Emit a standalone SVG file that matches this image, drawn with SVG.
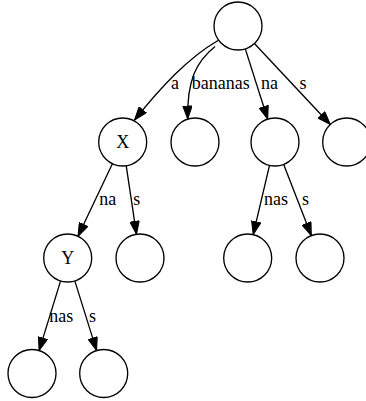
<svg xmlns="http://www.w3.org/2000/svg" width="366" height="401" viewBox="0 0 366 401">
<style>
.n{fill:#fff;stroke:#000;stroke-width:1.33}
.e{fill:none;stroke:#000;stroke-width:1.33}
text{font-family:"Liberation Serif","Times New Roman",serif;font-size:18px;fill:#000}
.c{text-anchor:middle}
</style>
<defs>
<marker id="ah" markerUnits="userSpaceOnUse" markerWidth="14" markerHeight="10" viewBox="0 0 13 10" refX="13" refY="5" orient="auto">
<path d="M0,0.3 L13,5 L0,9.7 Z" fill="#000" stroke="#000" stroke-width="1"/>
</marker>
</defs>
<rect width="366" height="401" fill="#fff"/>
<g id="edges">
<path class="e" marker-end="url(#ah)" d="M218,40.5 C188,58 162,86 134.5,120"/>
<path class="e" marker-end="url(#ah)" d="M215,46.5 C196,62 187,80 187.7,119"/>
<path class="e" marker-end="url(#ah)" d="M245.3,48.9 L267.7,119.2"/>
<path class="e" marker-end="url(#ah)" d="M254.4,43.5 L330.3,124.5"/>
<path class="e" marker-end="url(#ah)" d="M112.4,163.7 L78,236.3"/>
<path class="e" marker-end="url(#ah)" d="M126.2,165.7 L136.5,234.3"/>
<path class="e" marker-end="url(#ah)" d="M269.5,165.4 L253.2,234.6"/>
<path class="e" marker-end="url(#ah)" d="M283.7,164.4 L311.3,235.6"/>
<path class="e" marker-end="url(#ah)" d="M60.6,280.9 L39.1,350.6"/>
<path class="e" marker-end="url(#ah)" d="M74.8,280.9 L96.6,350.6"/>
<text x="171" y="89">a</text>
<text x="191.7" y="89">bananas</text>
<text x="261" y="89">na</text>
<text x="299.5" y="89">s</text>
<text x="99.3" y="205">na</text>
<text x="133.3" y="205">s</text>
<text x="264" y="205">nas</text>
<text x="302" y="205">s</text>
<text x="49.3" y="322">nas</text>
<text x="89" y="322">s</text>
</g>
<g id="root"><circle class="n" cx="238" cy="26" r="24"/></g>
<g id="X"><circle class="n" cx="122.7" cy="142" r="24"/><text class="c" x="122.7" y="148.3">X</text></g>
<g id="bananas"><circle class="n" cx="195" cy="142" r="24"/></g>
<g id="na"><circle class="n" cx="275" cy="142" r="24"/></g>
<g id="s"><circle class="n" cx="346.7" cy="142" r="24"/></g>
<g id="Y"><circle class="n" cx="67.7" cy="258" r="24"/><text class="c" x="67.7" y="264.3">Y</text></g>
<g id="Xs"><circle class="n" cx="140" cy="258" r="24"/></g>
<g id="nanas"><circle class="n" cx="247.7" cy="258" r="24"/></g>
<g id="nas"><circle class="n" cx="320" cy="258" r="24"/></g>
<g id="Ynas"><circle class="n" cx="32" cy="373.5" r="24"/></g>
<g id="Ys"><circle class="n" cx="103.7" cy="373.5" r="24"/></g>
</svg>
